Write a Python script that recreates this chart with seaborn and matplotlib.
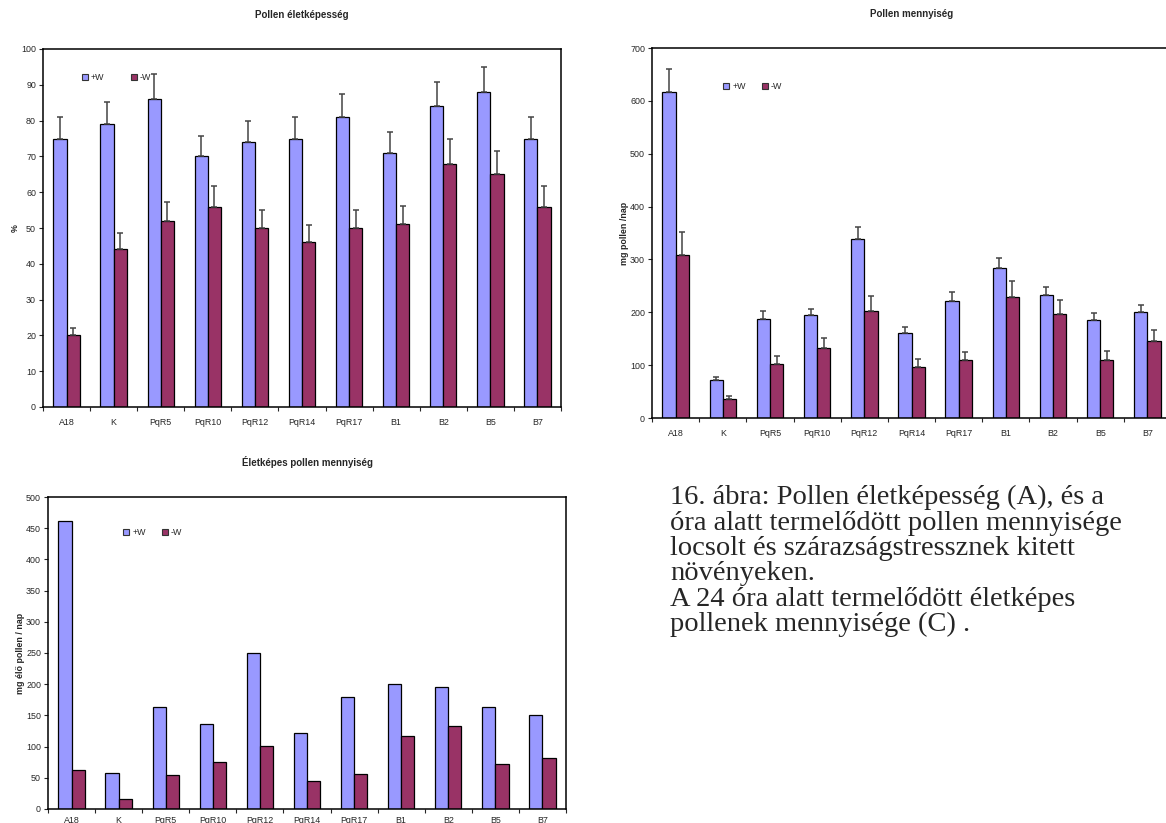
import matplotlib
matplotlib.use("Agg")
import matplotlib.pyplot as plt
from matplotlib.lines import Line2D
import numpy as np
import pandas as pd
import seaborn as sns

# categories and series
lines = ["A18", "K", "PqR5", "PqR10", "PqR12", "PqR14", "PqR17", "B1", "B2", "B5", "B7"]
groups = ["+W", "-W"]

viab_w = [75, 79, 86, 70, 74, 75, 81, 71, 84, 88, 75]
viab_d = [20, 44, 52, 56, 50, 46, 50, 51, 68, 65, 56]
viab_w_err = [6, 6.3, 7, 5.7, 6, 6, 6.5, 5.7, 6.8, 7, 6]
viab_d_err = [2, 4.5, 5.3, 5.7, 5, 4.7, 5, 5.2, 6.8, 6.5, 5.7]

amount_w = [616, 72, 188, 194, 338, 161, 222, 283, 232, 185, 200]
amount_d = [309, 36, 103, 133, 202, 97, 110, 228, 196, 110, 146]
amount_w_err = [44, 5, 14, 13, 24, 12, 16, 20, 16, 14, 14]
amount_d_err = [43, 5, 15, 18, 29, 14, 15, 32, 28, 17, 20]

live_w = [462, 57, 163, 136, 250, 121, 180, 201, 195, 163, 150]
live_d = [62, 16, 54, 75, 101, 45, 56, 117, 133, 72, 82]

caption = ("16. ábra: Pollen életképesség (A), és a\n"
           "óra alatt termelődött pollen mennyisége\n"
           "locsolt és szárazságstressznek kitett\n"
           "növényeken.\n"
           "A 24 óra alatt termelődött életképes\n"
           "pollenek mennyisége (C) .")

colors = {"+W": "#9999FF", "-W": "#993366"}

sns.set_style("white")
plt.rcParams["font.family"] = ["Liberation Sans", "DejaVu Sans"]

W, H = 1166, 823
FS = 6.4


def box(x0, y0, x1, y1):
    # pixel box -> figure fraction [left, bottom, width, height]
    return [x0 / W, 1 - y1 / H, (x1 - x0) / W, (y1 - y0) / H]


def panel(fig, rect, plus, minus, plus_err, minus_err, ymax, ystep,
          title, ylabel, leg_xy, colsp, xpad=8):
    ax = fig.add_axes(rect)
    df = pd.DataFrame({
        "line": lines * 2,
        "group": ["+W"] * len(lines) + ["-W"] * len(lines),
        "value": list(plus) + list(minus),
    })
    sns.barplot(data=df, x="line", y="value", hue="group", order=lines,
                hue_order=groups, palette=colors, width=0.56, errorbar=None,
                edgecolor="black", linewidth=0.9, saturation=1, ax=ax,
                legend=False)
    if plus_err is not None:
        for cont, vals, errs in zip(ax.containers, [plus, minus], [plus_err, minus_err]):
            xs = [p.get_x() + p.get_width() / 2 for p in cont.patches]
            ax.errorbar(xs, vals, yerr=[np.zeros(len(errs)), errs], fmt="none",
                        ecolor="#444444", elinewidth=1.1, capsize=2.2,
                        capthick=1.1, zorder=1)
    ax.set_xlim(-0.5, len(lines) - 0.5)
    ax.set_ylim(0, ymax)
    ax.set_yticks(np.arange(0, ymax + 1, ystep))
    ax.set_xticks(np.arange(-0.5, len(lines), 1), minor=True)
    ax.tick_params(axis="x", which="major", length=0, labelsize=FS, pad=xpad)
    ax.tick_params(axis="x", which="minor", length=3, width=0.8, direction="out")
    ax.tick_params(axis="y", length=3, width=0.8, direction="out", labelsize=FS, pad=2)
    ax.tick_params(bottom=True, left=True, which="both")
    ax.set_xlabel("")
    ax.set_ylabel(ylabel, fontsize=FS, fontweight="bold", labelpad=1)
    ax.set_title(title, fontsize=7, fontweight="bold", pad=22)
    for s in ax.spines.values():
        s.set_color("black")
        s.set_linewidth(1.1)
    handles = [Line2D([], [], marker="s", linestyle="none", markersize=4.4,
                      markerfacecolor=colors[g], markeredgecolor="#333333",
                      markeredgewidth=0.8, label=g) for g in groups]
    ax.legend(handles=handles, loc="center left", bbox_to_anchor=leg_xy,
              ncol=2, frameon=False, fontsize=FS, handletextpad=0.15,
              columnspacing=colsp, borderaxespad=0, handlelength=1)
    return ax


fig = plt.figure(figsize=(W / 100, H / 100), dpi=100)

panel(fig, box(43, 49, 561, 407), viab_w, viab_d, viab_w_err, viab_d_err,
      100, 10, "Pollen életképesség", "%", (0.066, 0.92), 2.8)
panel(fig, box(652, 48, 1171, 418), amount_w, amount_d, amount_w_err, amount_d_err,
      700, 100, "Pollen mennyiség", "mg pollen /nap", (0.128, 0.895), 1.7)
panel(fig, box(48, 497, 566, 809), live_w, live_d, None, None,
      500, 50, "Életképes pollen mennyiség", "mg élő pollen / nap", (0.136, 0.885), 1.7,
      xpad=5)

fig.text(670 / W, 1 - 485 / H, caption, fontsize=20.5, va="top", ha="left",
         family=["Liberation Serif", "DejaVu Serif"], linespacing=1.02)

fig.savefig("out.png", dpi=100)
